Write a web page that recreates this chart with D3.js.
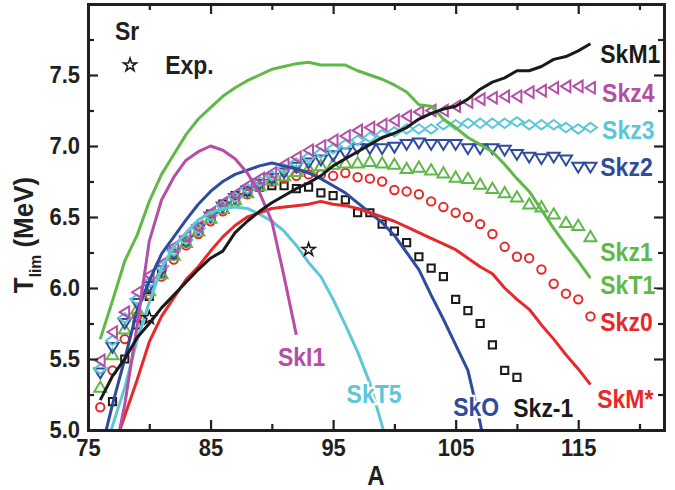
<!DOCTYPE html>
<html>
<head>
<meta charset="utf-8">
<script src="https://cdn.jsdelivr.net/npm/d3@7"></script>
<style>
  body { margin: 0; background: #fff; }
  svg { display: block; font-family: "Liberation Sans", Arial, sans-serif; font-weight: bold; }
</style>
</head>
<body>
<div id="chart"></div>
<script>
// ============ 数据 ============
const massA = [76, 77, 78, 79, 80, 81, 82, 83, 84, 85, 86, 87, 88, 89, 90, 91, 92, 93, 94, 95,
  96, 97, 98, 99, 100, 101, 102, 103, 104, 105, 106, 107, 108, 109, 110, 111, 112, 113, 114, 115, 116];

// marker series (Skz family), aligned with massA
const skz4 = [5.49, 5.69, 5.83, 5.97, 6.09, 6.17, 6.29, 6.36, 6.43, 6.53, 6.60, 6.66, 6.72, 6.77, 6.81,
  6.87, 6.92, 6.97, 7.00, 7.04, 7.07, 7.11, 7.13, 7.15, 7.18, 7.21, 7.24, 7.25, 7.25, 7.28,
  7.31, 7.33, 7.34, 7.35, 7.35, 7.38, 7.39, 7.41, 7.42, 7.42, 7.41];
const skz3 = [5.43, 5.63, 5.79, 5.92, 6.04, 6.15, 6.26, 6.34, 6.42, 6.51, 6.58, 6.64, 6.70, 6.75, 6.79,
  6.84, 6.88, 6.92, 6.95, 6.98, 7.01, 7.04, 7.06, 7.08, 7.10, 7.12, 7.12, 7.12, 7.15, 7.15,
  7.16, 7.16, 7.16, 7.16, 7.17, 7.15, 7.15, 7.15, 7.13, 7.12, 7.13];
const skz2 = [5.40, 5.58, 5.75, 5.89, 6.01, 6.12, 6.24, 6.33, 6.41, 6.50, 6.57, 6.63, 6.68, 6.73, 6.77,
  6.81, 6.85, 6.88, 6.90, 6.93, 6.95, 6.98, 6.98, 6.98, 6.99, 7.01, 7.02, 7.01, 7.01, 7.01,
  6.98, 6.98, 6.98, 6.97, 6.94, 6.92, 6.91, 6.92, 6.90, 6.85, 6.85];
const skz1 = [5.30, 5.53, 5.71, 5.85, 5.98, 6.10, 6.23, 6.32, 6.40, 6.49, 6.56, 6.62, 6.67, 6.72, 6.76,
  6.79, 6.82, 6.84, 6.86, 6.87, 6.88, 6.88, 6.89, 6.88, 6.87, 6.84, 6.85, 6.83, 6.81, 6.78,
  6.77, 6.73, 6.70, 6.67, 6.64, 6.59, 6.57, 6.52, 6.46, 6.44, 6.36];
const skz0 = [5.16, 5.42, 5.64, 5.80, 5.95, 6.08, 6.20, 6.30, 6.38, 6.47, 6.54, 6.60, 6.66, 6.71, 6.75,
  6.77, 6.79, 6.80, 6.80, 6.79, 6.81, 6.78, 6.77, 6.75, 6.69, 6.68, 6.66, 6.61, 6.57, 6.53,
  6.50, 6.45, 6.38, 6.29, 6.22, 6.21, 6.13, 6.03, 5.96, 5.92, 5.80];
const skzm1 = [null, 5.20, 5.50, 5.74, 5.94, 6.10, 6.23, 6.33, 6.43, 6.52, 6.59, 6.65, 6.68, 6.71, 6.72,
  6.72, 6.70, 6.71, 6.67, 6.65, 6.62, 6.53, 6.53, 6.45, 6.40, 6.32, 6.22, 6.14, 6.08, 5.92,
  5.84, 5.75, 5.60, 5.42, 5.37, null, null, null, null, null, null];

// line series, aligned with massA
const skM1 = [5.21, 5.38, 5.50, 5.65, 5.75, 5.86, 5.95, 6.04, 6.13, 6.21, 6.26, 6.39, 6.47, 6.54, 6.60,
  6.65, 6.70, 6.74, 6.79, 6.86, 6.91, 6.96, 7.01, 7.06, 7.09, 7.13, 7.19, 7.23, 7.26, 7.28,
  7.33, 7.40, 7.45, 7.48, 7.53, 7.53, 7.56, 7.61, 7.63, 7.67, 7.72];
const skT1 = [5.64, 5.91, 6.19, 6.37, 6.61, 6.80, 6.94, 7.08, 7.19, 7.27, 7.35, 7.41, 7.46, 7.50, 7.54,
  7.56, 7.58, 7.59, 7.57, 7.57, 7.57, 7.53, 7.50, 7.47, 7.43, 7.38, 7.29, 7.28, 7.19, 7.13,
  7.06, 7.01, 6.96, 6.87, 6.77, 6.68, 6.55, 6.42, 6.30, 6.19, 6.07];
const skMstar = [null, 4.85, 5.10, 5.35, 5.62, 5.80, 5.93, 6.06, 6.15, 6.26, 6.36, 6.44, 6.50, 6.53, 6.56,
  6.57, 6.58, 6.59, 6.61, 6.59, 6.58, 6.56, 6.53, 6.50, 6.47, 6.43, 6.39, 6.35, 6.31, 6.27,
  6.21, 6.15, 6.10, 6.00, 5.92, 5.85, 5.74, 5.64, 5.53, 5.43, 5.32];
const skO = [4.83, 5.18, 5.50, 5.84, 6.05, 6.24, 6.36, 6.48, 6.59, 6.68, 6.75, 6.80, 6.83, 6.86, 6.88,
  6.86, 6.84, 6.81, 6.77, 6.72, 6.67, 6.60, 6.53, 6.46, 6.37, 6.25, 6.13, 5.95, 5.78, 5.60,
  5.42, 5.05, 4.60, null, null, null, null, null, null, null, null];
const skT5 = [4.73, 5.03, 5.30, 5.63, 5.90, 6.14, 6.29, 6.39, 6.48, 6.53, 6.56, 6.57, 6.56, 6.52, 6.47,
  6.40, 6.30, 6.18, 6.08, 5.92, 5.74, 5.55, 5.33, 5.03, 4.72, null, null, null, null, null,
  null, null, null, null, null, null, null, null, null, null, null];
const skI1 = [null, 4.75, 5.18, 5.73, 6.33, 6.62, 6.78, 6.90, 6.96, 7.00, 6.97, 6.91, 6.81, 6.67, 6.47,
  6.08, 5.67, null, null, null, null, null, null, null, null, null, null, null, null, null,
  null, null, null, null, null, null, null, null, null, null, null];

// experiment
const expA = [80, 93];
const expT = [5.79, 6.27];

// ticks
const xTicks = [75, 85, 95, 105, 115];
const xMinor = [80, 90, 100, 110, 120];
const yTicks = [5.0, 5.5, 6.0, 6.5, 7.0, 7.5];
const yMinor = [5.25, 5.75, 6.25, 6.75, 7.25, 7.75];

// curve labels (data coordinates of the text baseline start)
const labelText = ['SkM1', 'Skz4', 'Skz3', 'Skz2', 'Skz1', 'SkT1', 'Skz0', 'SkM*', 'Skz-1', 'SkO', 'SkT5', 'SkI1'];
const labelA = [116.8, 116.95, 116.95, 116.8, 116.8, 116.8, 116.8, 116.55, 109.7, 104.8, 96.1, 90.5];
const labelT = [7.585, 7.31, 7.05, 6.79, 6.19, 5.955, 5.695, 5.155, 5.09, 5.10, 5.19, 5.45];

// ============ 样式 ============
const C = {
  black: '#1a1a1a',
  magenta: '#b54ea6',
  cyan: '#5ec7d7',
  blue: '#2f4b9e',
  green: '#5fb848',
  red: '#e8292b'
};
const labelColor = [C.black, C.magenta, C.cyan, C.blue, C.green, C.green, C.red, C.red, C.black, C.blue, C.cyan, C.magenta];
const stretch = 'scale(1,1.12)';   // the printed font is a little taller than Liberation Sans

const markerShapes = {
  square: 'M-3.6,-3.6H3.6V3.6H-3.6Z',
  circle: 'M4.2,0A4.2,4.2 0 1,1 -4.2,0A4.2,4.2 0 1,1 4.2,0Z',
  up: 'M0,-5.8L6,4.4L-6,4.4Z',
  down: 'M0,5.2L6,-4.6L-6,-4.6Z',
  diamond: 'M0,-4.7L6.4,0L0,4.7L-6.4,0Z',
  left: 'M-5,0L4.4,-5.8L4.4,5.8Z'
};

const markerSeries = [
  { vals: skzm1, shape: 'square', color: C.black },
  { vals: skz0, shape: 'circle', color: C.red },
  { vals: skz1, shape: 'up', color: C.green },
  { vals: skz2, shape: 'down', color: C.blue },
  { vals: skz3, shape: 'diamond', color: C.cyan },
  { vals: skz4, shape: 'left', color: C.magenta }
];
const lineSeries = [
  { vals: skT5, color: C.cyan },
  { vals: skO, color: C.blue },
  { vals: skMstar, color: C.red },
  { vals: skI1, color: C.magenta },
  { vals: skT1, color: C.green },
  { vals: skM1, color: C.black }
];

// ============ 画布 ============
const width = 675, height = 490;
const plot = { left: 88, right: 664, top: 4, bottom: 430 };

const x = d3.scaleLinear().domain([75, 122]).range([plot.left, plot.right]);
const y = d3.scaleLinear().domain([5, 8]).range([plot.bottom, plot.top]);

const svg = d3.select('#chart').append('svg')
  .attr('width', width)
  .attr('height', height);

svg.append('defs').append('clipPath').attr('id', 'clip')
  .append('rect')
  .attr('x', plot.left).attr('y', plot.top)
  .attr('width', plot.right - plot.left).attr('height', plot.bottom - plot.top);

const body = svg.append('g').attr('clip-path', 'url(#clip)');

// markers
markerSeries.forEach(s => {
  body.append('g')
    .selectAll('path')
    .data(massA.map((a, i) => [a, s.vals[i]]).filter(d => d[1] != null))
    .join('path')
    .attr('transform', d => `translate(${x(d[0])},${y(d[1])})`)
    .attr('d', markerShapes[s.shape])
    .attr('fill', 'none')
    .attr('stroke', s.color)
    .attr('stroke-width', 2);
});

// lines
const line = d3.line()
  .defined(d => d[1] != null)
  .x(d => x(d[0]))
  .y(d => y(d[1]));

lineSeries.forEach(s => {
  body.append('path')
    .datum(massA.map((a, i) => [a, s.vals[i]]))
    .attr('d', line)
    .attr('fill', 'none')
    .attr('stroke', s.color)
    .attr('stroke-width', 3)
    .attr('stroke-linejoin', 'round');
});

// experiment stars
const star = d3.symbol(d3.symbolStar, 52)();
svg.append('g')
  .selectAll('path')
  .data(expA.map((a, i) => [a, expT[i]]))
  .join('path')
  .attr('transform', d => `translate(${x(d[0])},${y(d[1])})`)
  .attr('d', star)
  .attr('fill', 'none')
  .attr('stroke', C.black)
  .attr('stroke-width', 1.6);

// ============ 坐标轴 ============
function styleAxis(g, labelled) {
  g.select('.domain').attr('stroke', '#231f20').attr('stroke-width', 3).attr('stroke-linecap', 'square');
  g.selectAll('.tick line').attr('stroke', '#231f20').attr('stroke-width', 2.2);
  g.selectAll('.tick text')
    .attr('fill', '#231f20')
    .attr('transform', stretch)
    .style('font-size', labelled ? '22px' : '0px')
    .style('font-weight', 'bold');
}

function addAxis(gen, scale, ticks, minor, tr, fmt) {
  svg.append('g').attr('transform', tr)
    .call(gen(scale).tickValues(minor).tickSize(-6).tickSizeOuter(0).tickFormat(''))
    .call(g => styleAxis(g, false));
  const g = svg.append('g').attr('transform', tr)
    .call(gen(scale).tickValues(ticks).tickSize(-10).tickSizeOuter(0).tickPadding(8)
      .tickFormat(fmt || ''))
    .call(g => styleAxis(g, !!fmt));
  return g;
}

addAxis(d3.axisBottom, x, xTicks, xMinor, `translate(0,${plot.bottom})`, d3.format('d'));
addAxis(d3.axisTop, x, xTicks, xMinor, `translate(0,${plot.top})`, null);
addAxis(d3.axisLeft, y, yTicks, yMinor, `translate(${plot.left},0)`, d3.format('.1f'));
addAxis(d3.axisRight, y, yTicks, yMinor, `translate(${plot.right},0)`, null);

// axis titles
svg.append('text')
  .attr('transform', `translate(${(plot.left + plot.right) / 2},485) ${stretch}`)
  .attr('text-anchor', 'middle')
  .attr('fill', '#231f20')
  .style('font-size', '24px')
  .text('A');

const yTitle = svg.append('text')
  .attr('transform', `translate(33,235) rotate(-90) scale(1.04,1.08)`)
  .attr('text-anchor', 'middle')
  .attr('fill', '#231f20')
  .style('font-size', '25px');
yTitle.append('tspan').text('T');
yTitle.append('tspan').attr('dy', 7).style('font-size', '15px').text('lim');
yTitle.append('tspan').attr('dy', -7).text(' (MeV)');

// ============ 注释 ============
svg.append('text')
  .attr('transform', `translate(${x(77.2)},${y(7.75)}) ${stretch}`)
  .attr('fill', '#231f20')
  .style('font-size', '23px')
  .text('Sr');

svg.append('path')
  .attr('transform', `translate(${x(78.43)},${y(7.57)})`)
  .attr('d', star)
  .attr('fill', 'none')
  .attr('stroke', C.black)
  .attr('stroke-width', 1.6);

svg.append('text')
  .attr('transform', `translate(${x(81.3)},${y(7.505)}) ${stretch}`)
  .attr('fill', '#231f20')
  .style('font-size', '23px')
  .text('Exp.');

svg.append('g')
  .selectAll('text')
  .data(labelText)
  .join('text')
  .attr('transform', (d, i) => `translate(${x(labelA[i])},${y(labelT[i])}) ${stretch}`)
  .attr('fill', (d, i) => labelColor[i])
  .attr('stroke', '#fff')
  .attr('stroke-width', 4)
  .attr('paint-order', 'stroke')
  .style('font-size', '23px')
  .text(d => d);
</script>
</body>
</html>
